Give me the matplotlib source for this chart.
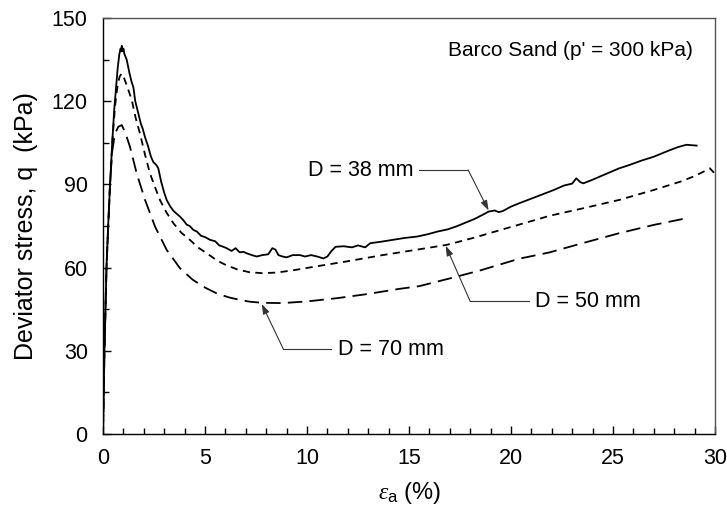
"""Deviator stress vs axial strain for Barco Sand at three specimen diameters."""

import matplotlib

matplotlib.use("Agg")
import matplotlib.pyplot as plt
from matplotlib.ticker import MultipleLocator

plt.rcParams["font.family"] = ["Liberation Sans", "DejaVu Sans"]
plt.rcParams["mathtext.fontset"] = "custom"
plt.rcParams["mathtext.it"] = "Liberation Serif:italic"
plt.rcParams["mathtext.rm"] = "Liberation Sans"
plt.rcParams["mathtext.sf"] = "Liberation Sans"

# D = 38 mm (solid)
strain_38 = [0, 0.07, 0.17, 0.25, 0.34, 0.45, 0.55, 0.64, 0.72, 0.8, 0.86, 0.9, 0.92, 0.96, 1.0,
             1.05, 1.16, 1.3, 1.4, 1.49, 1.58, 1.65, 1.75, 1.85, 1.95, 2.06, 2.2, 2.35, 2.47, 2.55,
             2.63, 2.71, 2.85, 3.0, 3.12, 3.3, 3.45, 3.6, 3.77, 3.95, 4.1, 4.25, 4.43, 4.6, 4.8,
             5.0, 5.25, 5.5, 5.7, 5.9, 6.06, 6.3, 6.5, 6.7, 6.88, 7.1, 7.3, 7.53, 7.8, 8.1, 8.3,
             8.45, 8.6, 8.8, 9.0, 9.3, 9.66, 9.9, 10.2, 10.5, 10.8, 11.0, 11.2, 11.4, 11.8, 12.2,
             12.5, 12.85, 13.1, 13.6, 14.2, 14.8, 15.4, 15.9, 16.4, 16.9, 17.3, 17.7, 18.2, 18.6,
             18.9, 19.2, 19.4, 19.6, 20.0, 20.4, 20.9, 21.5, 22.1, 22.6, 23.0, 23.2, 23.4, 23.55,
             24.0, 24.6, 25.3, 25.8, 26.4, 27.0, 27.5, 27.8, 28.2, 28.6, 29.1]
q_38 = [0, 30, 60, 75, 89, 105, 117, 125, 132, 137, 139, 138, 140, 138, 139,
        137, 135, 130, 127, 125, 120, 118, 115, 112, 110, 107, 104, 100, 98, 97.5,
        96.8, 95.8, 91, 87, 84.4, 82, 80.5, 79.5, 78.4, 77, 75.5, 75, 73.6, 73, 71.5,
        71, 70, 69.5, 68, 67.5, 67, 66, 67, 65.5, 65.7, 65, 64.5, 64, 64.5, 64.8, 67,
        66.5, 64.5, 64, 63.7, 64.5, 64.5, 64, 64.5, 64, 63.3, 64, 66, 67.5, 67.7, 67.3,
        68, 67.3, 68.8, 69.3, 70, 70.7, 71.2, 72, 73, 73.8, 74.8, 76, 77.5, 79,
        80.2, 80.6, 80, 80.4, 82, 83.2, 84.6, 86.3, 88, 89.6, 90.3, 92.2, 90.8, 90.4,
        91.7, 93.6, 95.8, 97, 98.6, 100, 101.5, 102.4, 103.5, 104.3, 104]

# D = 50 mm (short dashes)
strain_50 = [0, 0.07, 0.17, 0.34, 0.48, 0.6, 0.72, 0.82, 0.92, 1.05, 1.2, 1.41, 1.6, 1.81, 2.05,
             2.3, 2.55, 2.79, 3.1, 3.45, 3.85, 4.26, 4.65, 5.08, 5.6, 6.06, 6.6, 7.2, 7.8, 8.5,
             9.3, 10.5, 12.0, 13.7, 15.5, 16.85, 18.2, 19.5, 20.4, 21.9, 23.6, 25.3, 27.0, 28.3,
             29.0, 29.6, 29.75, 29.95]
q_50 = [0, 30, 60, 89, 108, 119, 126, 129, 130, 128, 125, 120.4, 114, 108.4, 101,
        94, 89, 84.4, 80, 76, 72.5, 70, 67.3, 65.2, 62.5, 60.8, 59.3, 58.3, 58, 58.2,
        59, 60.5, 62.3, 64.5, 66.6, 68.2, 70.8, 73.6, 75.5, 78.7, 81.5, 84.4, 88, 91,
        93, 95.2, 95.8, 94.2]

# D = 70 mm (long dashes)
strain_70 = [0, 0.07, 0.17, 0.34, 0.45, 0.59, 0.75, 0.92, 1.1, 1.32, 1.65, 2.06, 2.55, 3.12,
             3.77, 4.4, 5.0, 5.6, 6.2, 6.8, 7.2, 7.8, 8.8, 10.0, 11.5, 12.9, 14.5, 15.5, 17.0,
             18.5, 20.4, 21.9, 23.5, 25.3, 27.0, 28.6]
q_70 = [0, 30, 60, 90, 102, 108.4, 110.8, 111.4, 108.5, 103.6, 94, 84.4, 74.8, 66.4,
        59.8, 55.6, 52.8, 50.6, 49.2, 48.2, 47.7, 47.3, 47.2, 47.8, 49, 50.4, 52.3, 53.3, 56.1,
        59, 63.2, 65.5, 68.8, 72.4, 75.4, 77.8]

x_ticks = [0, 5, 10, 15, 20, 25, 30]
y_ticks = [0, 30, 60, 90, 120, 150]

fig = plt.figure(figsize=(7.27, 5.16), dpi=100)
ax = fig.add_axes([0.1417, 0.159, 0.8418, 0.806])

ax.plot(strain_38, q_38, color="black", linewidth=1.3, solid_joinstyle="round")
ax.plot(strain_50, q_50, color="black", linewidth=1.3, dashes=(4, 3))
ax.plot(strain_70, q_70, color="black", linewidth=1.3, dashes=(8, 4))

ax.set_xlim(0, 30)
ax.set_ylim(0, 150)
ax.set_xticks(x_ticks)
ax.set_yticks(y_ticks)
ax.xaxis.set_minor_locator(MultipleLocator(1))
ax.yaxis.set_minor_locator(MultipleLocator(15))
ax.tick_params(which="both", direction="in", top=False, right=False, labelsize=15.5, width=1)
ax.tick_params(axis="x", which="major", length=6, pad=10)
ax.tick_params(axis="y", which="major", length=6, pad=11)
ax.tick_params(which="minor", length=4)
for s in ax.spines.values():
    s.set_linewidth(1)
for s in ("top", "right"):
    ax.spines[s].set_color("#555555")

ax.set_xlabel(r"$\varepsilon_{\mathsf{a}}$ (%)", fontsize=17, labelpad=8)
ax.set_ylabel("Deviator stress, q  (kPa)", fontsize=18, labelpad=10)

ax.text(28.9, 138.2, "Barco Sand (p' = 300 kPa)", fontsize=15, ha="right", va="center")

# leader lines: text position, start of horizontal run, knee, arrow tip
labels = ["D = 38 mm", "D = 50 mm", "D = 70 mm"]
label_pos = [(10.05, 95.2), (21.2, 47.7), (11.5, 30.3)]
leader_start = [(15.5, 95.2), (20.9, 47.8), (11.2, 30.6)]
leader_knee = [(17.9, 95.2), (18.0, 47.8), (8.84, 30.6)]
leader_tip = [(18.9, 80.6), (16.8, 67.9), (7.78, 46.9)]

for lab, (tx, ty), st, kn, tip in zip(labels, label_pos, leader_start, leader_knee, leader_tip):
    ax.text(tx, ty, lab, fontsize=15.5, ha="left", va="center")
    ax.plot([st[0], kn[0]], [st[1], kn[1]], color="#333333", linewidth=0.8)
    ax.annotate("", xy=tip, xytext=kn,
                arrowprops=dict(arrowstyle="-|>,head_length=0.6,head_width=0.2",
                                color="#333333", linewidth=0.8, shrinkA=0, shrinkB=0))

fig.savefig("out.png", dpi=100)
